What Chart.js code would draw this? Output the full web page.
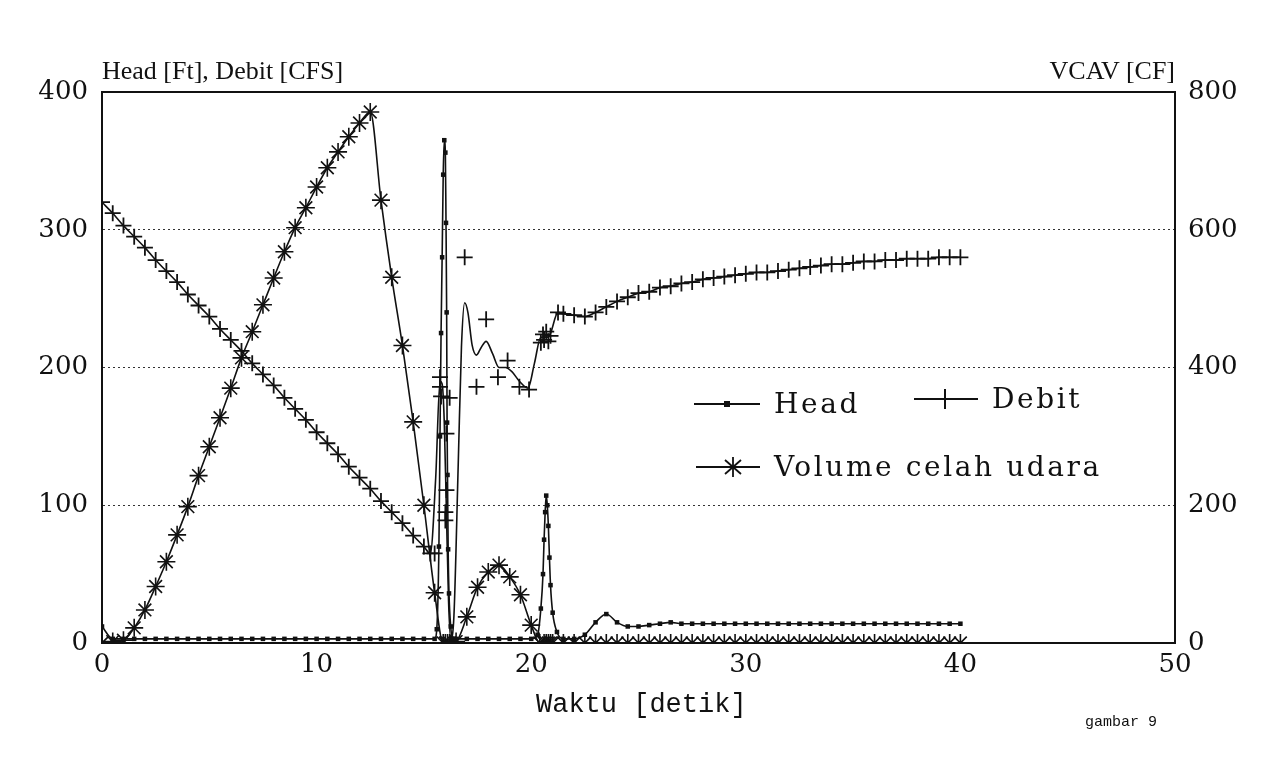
<!DOCTYPE html>
<html lang="id">
<head>
  <meta charset="UTF-8">
  <title>gambar 9</title>
  <script src="https://cdn.jsdelivr.net/npm/chart.js"></script>
  <style>
    html, body { margin: 0; padding: 0; background: #fff; }
    #wrap { position: relative; width: 1278px; height: 769px; overflow: hidden; }
    #chart { position: absolute; left: 0; top: 0; }
    .txt { position: absolute; color: #111; white-space: nowrap; line-height: 1; }
    .title { font-family: "Liberation Serif", serif; font-size: 26px; }
    .mono { font-family: "Liberation Mono", monospace; }
    .leg { position: absolute; display: flex; align-items: center; font-family: "DejaVu Serif", serif;
           font-size: 28px; letter-spacing: 2.6px; color: #111; line-height: 1; white-space: nowrap; }
    .leg svg { margin-right: 14px; }
  </style>
</head>
<body>
<div id="wrap">
  <canvas id="chart" width="1278" height="769"></canvas>

  <div class="txt title" style="left:102px; top:58px;">Head [Ft], Debit [CFS]</div>
  <div class="txt title" style="right:103px; top:58px;">VCAV [CF]</div>
  <div class="txt mono" style="left:536px; top:692px; font-size:27px;">Waktu [detik]</div>
  <div class="txt mono" style="left:1085px; top:715px; font-size:15px;">gambar 9</div>

  <!-- legend -->
  <div class="leg" style="left:694px; top:390px;">
    <svg width="66" height="14"><line x1="0" y1="7" x2="66" y2="7" stroke="#111" stroke-width="2"/><rect x="30" y="4" width="6" height="6" fill="#111"/></svg>Head
  </div>
  <div class="leg" style="left:914px; top:385px;">
    <svg width="64" height="22"><line x1="0" y1="11" x2="64" y2="11" stroke="#111" stroke-width="2"/><line x1="31" y1="1" x2="31" y2="21" stroke="#111" stroke-width="2"/></svg>Debit
  </div>
  <div class="leg" style="left:696px; top:453px;">
    <svg width="64" height="24"><line x1="0" y1="12" x2="64" y2="12" stroke="#111" stroke-width="2"/>
      <line x1="37" y1="2" x2="37" y2="22" stroke="#111" stroke-width="1.8"/>
      <line x1="29" y1="5" x2="45" y2="19" stroke="#111" stroke-width="1.8"/>
      <line x1="45" y1="5" x2="29" y2="19" stroke="#111" stroke-width="1.8"/></svg>Volume celah udara
  </div>
</div>

<script>
  // ---- data ----
  // Head [Ft] (left axis)
  const headT = [0,0.5,1,1.5,2,2.5,3,3.5,4,4.5,5,5.5,6,6.5,7,7.5,8,8.5,9,9.5,10,10.5,11,11.5,12,12.5,13,13.5,14,14.5,15,15.5,
    15.6,15.7,15.75,15.8,15.85,15.9,15.95,16,16.03,16.06,16.08,16.1,16.13,16.17,16.25,16.35,
    16.5,17,17.5,18,18.5,19,19.5,20,
    20.3,20.45,20.55,20.6,20.65,20.7,20.75,20.8,20.85,20.9,21,21.2,21.5,
    22,22.5,23,23.5,24,24.5,25,25.5,26,26.5,
    27,27.5,28,28.5,29,29.5,30,30.5,31,31.5,32,32.5,33,33.5,34,34.5,35,35.5,36,36.5,37,37.5,38,38.5,39,39.5,40];
  const headV = [12,3,3,3,3,3,3,3,3,3,3,3,3,3,3,3,3,3,3,3,3,3,3,3,3,3,3,3,3,3,3,3,
    10,70,150,225,280,340,365,356,305,240,160,122,68,36,12,3,
    3,3,3,3,3,3,3,3,
    6,25,50,75,95,107,100,85,62,42,22,8,3,
    3,6,15,21,15,12,12,13,14,15,
    14,14,14,14,14,14,14,14,14,14,14,14,14,14,14,14,14,14,14,14,14,14,14,14,14,14,14];

  // Debit [CFS] (left axis): falling ramp, surge curve, recovery tail
  const debitRampT = [0,0.5,1,1.5,2,2.5,3,3.5,4,4.5,5,5.5,6,6.5,7,7.5,8,8.5,9,9.5,10,10.5,11,11.5,12,12.5,13,13.5,14,14.5,15,15.3];
  const debitRampV = [320,312,303,295,287,278,270,262,253,245,237,228,220,212,203,195,187,178,170,162,153,145,137,128,120,112,103,95,87,78,70,65];
  const debitSurgeT = [15.55,15.75,15.85,15.95,16.05,16.15,16.25,16.4,16.6,16.75,16.9,17.05,17.25,17.45,17.65,17.9,18.2,18.5,18.8,19.1,19.45,19.85,20.15,20.45,20.8];
  const debitSurgeV = [120,190,188,160,95,30,3,20,130,215,247,240,216,209,214,219,210,200,200,197,190,185,203,222,222];
  const debitTailT = [21.25,21.5,22,22.5,23,23.5,24,24.5,25,25.5,26,26.5,27,27.5,28,28.5,29,29.5,30,30.5,31,31.5,32,32.5,33,33.5,34,34.5,35,35.5,36,36.5,37,37.5,38,38.5,39,39.5,40];
  const debitTailV = [240,239,238,237,240,244,248,251,254,255,258,259,261,262,264,265,266,267,268,269,269,270,271,272,273,274,275,275,276,277,277,278,278,279,279,279,280,280,280];
  // loose "+" marks during the surge
  const debitMarkT = [15.5,15.75,15.75,15.8,16.2,16.05,16.05,16,16,16.9,17.45,17.9,18.45,18.9,19.45,19.9,20.45,20.55,20.6,20.7,20.8,20.9];
  const debitMarkV = [65,193,186,179,178,152,111,95,89,280,186,235,193,205,186,184,218,224,220,226,219,223];

  // VCAV [CF] (right axis)
  const vcavT = [0,0.5,1,1.5,2,2.5,3,3.5,4,4.5,5,5.5,6,6.5,7,7.5,8,8.5,9,9.5,10,10.5,11,11.5,12,12.5,13,13.5,14,14.5,15,15.5,
    15.9,16,16.1,16.2,16.5,17,17.5,18,18.5,19,19.5,20,
    20.4,20.6,20.7,20.8,20.9,21,
    21.5,22,22.5,23,23.5,24,24.5,25,25.5,26,26.5,27,27.5,28,28.5,29,29.5,30,30.5,31,31.5,32,32.5,33,33.5,34,34.5,35,35.5,36,36.5,37,37.5,38,38.5,39,39.5,40];
  const vcavV = [0,2,4,22,48,82,118,157,198,243,285,327,370,414,452,491,530,568,603,632,662,690,713,735,755,771,643,531,432,321,200,73,
    0,0,0,0,2,38,81,103,113,96,70,26,
    0,0,0,0,0,0,
    0,0,0,0,0,0,0,0,0,0,0,0,0,0,0,0,0,0,0,0,0,0,0,0,0,0,0,0,0,0,0,0,0,0,0,0,0,0];

  const xTicks = [0, 10, 20, 30, 40, 50];

  // ---- build chart ----
  const ink = '#111';
  const pts = (t, v) => t.map((x, i) => ({ x: x, y: v[i] }));

  const debitLine = pts(debitRampT, debitRampV).concat(pts(debitSurgeT, debitSurgeV), pts(debitTailT, debitTailV));
  const debitRadius = debitRampT.map(() => 8).concat(debitSurgeT.map(() => 0), debitTailT.map(() => 8));

  // plain box round the plot area
  const frame = {
    id: 'frame',
    afterDatasetsDraw(chart) {
      const { ctx, chartArea: a } = chart;
      ctx.save();
      ctx.strokeStyle = ink;
      ctx.lineWidth = 2;
      ctx.strokeRect(a.left, a.top, a.right - a.left, a.bottom - a.top);
      ctx.restore();
    }
  };

  const tickFont = { family: 'DejaVu Serif', size: 26 };

  new Chart(document.getElementById('chart').getContext('2d'), {
    type: 'line',
    data: {
      datasets: [
        {
          label: 'Head',
          data: pts(headT, headV),
          yAxisID: 'y',
          borderColor: ink,
          borderWidth: 1.6,
          pointStyle: 'rect',
          pointRadius: 3.2,
          pointBackgroundColor: ink,
          pointBorderWidth: 0,
          cubicInterpolationMode: 'monotone'
        },
        {
          label: 'Debit',
          data: debitLine,
          yAxisID: 'y',
          borderColor: ink,
          borderWidth: 1.6,
          pointStyle: 'cross',
          pointRadius: debitRadius,
          pointBorderColor: ink,
          pointBorderWidth: 1.8,
          cubicInterpolationMode: 'monotone'
        },
        {
          label: 'Debit marks',
          data: pts(debitMarkT, debitMarkV),
          yAxisID: 'y',
          showLine: false,
          pointStyle: 'cross',
          pointRadius: 8,
          pointBorderColor: ink,
          pointBorderWidth: 1.8
        },
        {
          label: 'Volume celah udara',
          data: pts(vcavT, vcavV),
          yAxisID: 'y1',
          borderColor: ink,
          borderWidth: 1.6,
          pointStyle: 'star',
          pointRadius: 9,
          pointBorderColor: ink,
          pointBorderWidth: 1.6,
          cubicInterpolationMode: 'monotone'
        }
      ]
    },
    options: {
      responsive: false,
      animation: false,
      events: [],
      layout: { padding: { top: 92, left: 0, right: 0, bottom: 0 } },
      plugins: { legend: { display: false }, tooltip: { enabled: false } },
      scales: {
        x: {
          type: 'linear',
          min: 0,
          max: 50,
          afterBuildTicks(s) { s.ticks = xTicks.map(v => ({ value: v })); },
          ticks: { color: ink, font: tickFont, padding: 7 },
          grid: { display: false, drawTicks: false },
          border: { color: ink, width: 2 },
          afterFit(s) { s.height = 126; }
        },
        y: {
          position: 'left',
          min: 0,
          max: 400,
          ticks: { stepSize: 100, color: ink, font: tickFont, padding: 14 },
          grid: { color: '#333', lineWidth: 1, drawTicks: false },
          border: { color: ink, width: 2, dash: [2, 3] },
          afterFit(s) { s.width = 102; }
        },
        y1: {
          position: 'right',
          min: 0,
          max: 800,
          ticks: { stepSize: 200, color: ink, font: tickFont, padding: 13 },
          grid: { drawOnChartArea: false, drawTicks: false },
          border: { color: ink, width: 2 },
          afterFit(s) { s.width = 103; }
        }
      }
    },
    plugins: [frame]
  });
</script>
</body>
</html>
